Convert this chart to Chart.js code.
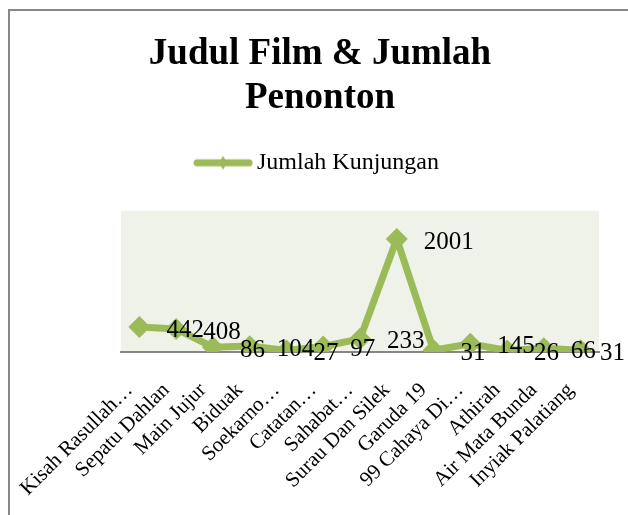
<!DOCTYPE html>
<html>
<head>
<meta charset="utf-8">
<script src="https://cdn.jsdelivr.net/npm/chart.js@4.4.0/dist/chart.umd.min.js"></script>
<style>
html,body{margin:0;padding:0;background:#fff;overflow:hidden;}
#frame{position:absolute;left:8px;top:9px;width:700px;height:600px;border:2px solid #878787;}
#wrap{position:absolute;left:6px;top:0;width:628px;height:515px;}
</style>
</head>
<body>
<div id="frame"></div>
<div id="wrap"><canvas id="chart" width="628" height="515"></canvas></div>
<script>
// data
const judulFilm = ["Kisah Rasullah…", "Sepatu Dahlan", "Main Jujur", "Biduak", "Soekarno…", "Catatan…",
    "Sahabat…", "Surau Dan Silek", "Garuda 19", "99 Cahaya Di…", "Athirah", "Air Mata Bunda", "Inyiak Palatiang"];
const jumlahKunjungan = [442, 408, 86, 104, 27, 97, 233, 2001, 31, 145, 26, 66, 31];
const seriesName = "Jumlah Kunjungan";

const green = "#9bbb59";
const serif = "'Liberation Serif', serif";

// legend marker: thick line with a small diamond
function legendMarker(){
    let c = document.createElement("canvas");
    c.width = 60; c.height = 16;
    let g = c.getContext("2d");
    g.strokeStyle = green; g.lineWidth = 7; g.lineCap = "round";
    g.beginPath(); g.moveTo(4, 8); g.lineTo(56, 8); g.stroke();
    g.fillStyle = green;
    g.beginPath(); g.moveTo(30, 1); g.lineTo(34, 8); g.lineTo(30, 15); g.lineTo(26, 8); g.closePath(); g.fill();
    return c;
}

// light plot background
const plotBg = {
    id: "plotBg",
    beforeDraw(chart){
        const {ctx, chartArea: a} = chart;
        ctx.save();
        ctx.fillStyle = "#eef2e8";
        ctx.fillRect(a.left, a.top, a.right - a.left, a.bottom - a.top);
        ctx.restore();
    }
};

// value labels to the right of each point
const valueLabels = {
    id: "valueLabels",
    afterDatasetsDraw(chart){
        const ctx = chart.ctx;
        const meta = chart.getDatasetMeta(0);
        const data = chart.data.datasets[0].data;
        ctx.save();
        ctx.font = "25px " + serif;
        ctx.fillStyle = "#000";
        ctx.textAlign = "left";
        ctx.textBaseline = "middle";
        meta.data.forEach((pt, i) => {
            let txt = String(data[i]);
            let w = ctx.measureText(txt).width;
            let x = Math.min(pt.x + 27, chart.chartArea.right + 26 - w);
            ctx.fillText(txt, x, pt.y + 3);
        });
        ctx.restore();
    }
};

new Chart(document.getElementById("chart"), {
    type: "line",
    data: {
        labels: judulFilm,
        datasets: [{
            label: seriesName,
            data: jumlahKunjungan,
            borderColor: green,
            backgroundColor: green,
            borderWidth: 7,
            pointStyle: "rectRot",
            pointRadius: 11,
            pointBorderWidth: 0,
            pointBackgroundColor: green,
            tension: 0,
            fill: false
        }]
    },
    options: {
        responsive: false,
        animation: false,
        layout: { padding: 0 },
        plugins: {
            title: {
                display: true,
                text: ["Judul Film & Jumlah", "Penonton"],
                color: "#000",
                font: { family: serif, size: 37, weight: "bold", lineHeight: 1.2 },
                padding: { top: 32, bottom: 20 }
            },
            legend: {
                display: true,
                labels: {
                    color: "#000",
                    font: { family: serif, size: 24 },
                    usePointStyle: true,
                    pointStyleWidth: 44,
                    padding: 10,
                    generateLabels: chart => [{
                        text: seriesName,
                        pointStyle: legendMarker(),
                        fillStyle: green,
                        strokeStyle: green,
                        lineWidth: 0,
                        datasetIndex: 0
                    }]
                }
            },
            tooltip: { enabled: false }
        },
        scales: {
            x: {
                type: "category",
                offset: true,
                grid: { display: false, drawTicks: false },
                border: { display: true, color: "#868686", width: 2 },
                ticks: {
                    autoSkip: false, minRotation: 45, maxRotation: 45,
                    padding: 26, labelOffset: -10, color: "#000",
                    font: { family: serif, size: 21 }
                },
                afterFit: s => { s.height = 163; s.paddingLeft = 0; s.paddingRight = 0; }
            },
            x2: {
                type: "category",
                position: "top",
                grid: { display: false, drawTicks: false },
                border: { display: false },
                ticks: { display: false },
                afterFit: s => { s.height = 26; }
            },
            y: {
                type: "linear",
                min: 0, max: 2500,
                grid: { display: false, drawTicks: false },
                border: { display: false },
                ticks: { display: false },
                afterFit: s => { s.width = 115; }
            },
            y2: {
                type: "linear",
                position: "right",
                grid: { display: false, drawTicks: false },
                border: { display: false },
                ticks: { display: false },
                afterFit: s => { s.width = 35; }
            }
        }
    },
    plugins: [plotBg, valueLabels]
});
</script>
</body>
</html>
